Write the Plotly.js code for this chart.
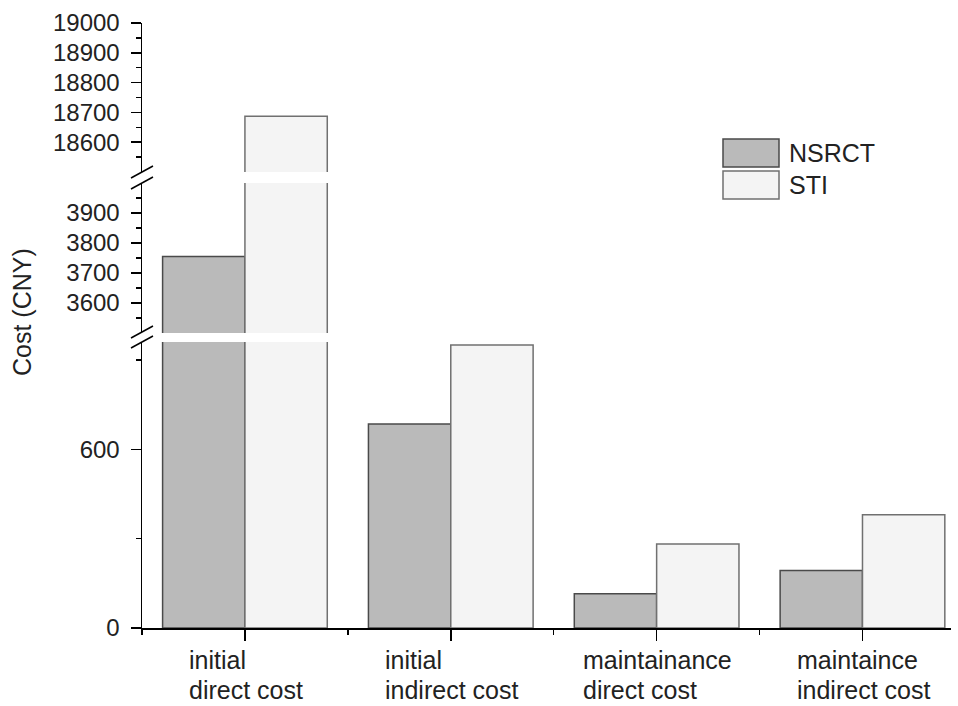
<!DOCTYPE html>
<html>
<head>
<meta charset="utf-8">
<script src="https://cdn.plot.ly/plotly-3.0.1.min.js"></script>
<style>html,body{margin:0;padding:0;background:#fff;}#chart{width:958px;height:706px;}</style>
</head>
<body>
<div id="chart"></div>
<script>
// ---- data ----
const categories = ['initial<br>direct cost', 'initial<br>indirect cost', 'maintainance<br>direct cost', 'maintaince<br>indirect cost'];
const seriesNames = ['NSRCT', 'STI'];
const nsrctValues = [3755, 685, 115, 193];
const stiValues = [18687, 950, 282, 380];
const seriesFill = ['#bababa', '#f4f4f4'];
const seriesLine = ['#4a4a4a', '#707070'];

// broken axis segments (bottom, middle, top)
const segRanges = [[0, 960], [3500, 4000], [18500, 19000]];
const segTicks = [[0, 600], [3600, 3700, 3800, 3900], [18600, 18700, 18800, 18900, 19000]];
const segMinor = [[300, 900], [3550, 3650, 3750, 3850, 3950], [18550, 18650, 18750, 18850, 18950]];

// ---- layout helpers (pixel -> paper) ----
const W = 958, H = 706;
const M = {l: 142, r: 7, t: 23, b: 78};
const PW = W - M.l - M.r, PH = H - M.t - M.b;
const px = x => (x - M.l) / PW;
const py = y => (H - M.b - y) / PH;
const xRange = [-0.5, 3.43];
const pxPerUnit = PW / (xRange[1] - xRange[0]);

const segDomains = [[py(628), py(342)], [py(333), py(183)], [py(172), py(23)]];
const yNames = ['y', 'y2', 'y3'];
const xIdx = categories.map((c, i) => i);
const seriesValues = [nsrctValues, stiValues];

const font = 'Liberation Sans, Arial, sans-serif';
const textColor = '#222';
const catFontSize = 25;

const traces = [];
yNames.forEach(yn => {
  seriesValues.forEach((vals, s) => {
    traces.push({
      type: 'bar', x: xIdx, y: vals, name: seriesNames[s], yaxis: yn, xaxis: 'x',
      showlegend: false, hoverinfo: 'skip',
      marker: {color: seriesFill[s], line: {color: seriesLine[s], width: 1.5}}
    });
  });
});

const layout = {
  width: W, height: H, margin: M,
  paper_bgcolor: '#fff', plot_bgcolor: 'rgba(0,0,0,0)',
  barmode: 'group', bargap: 0.2, bargroupgap: 0,
  showlegend: false,
  font: {family: font, size: 24, color: textColor},
  xaxis: {
    range: xRange, anchor: 'y', showgrid: false, zeroline: false,
    showline: true, linecolor: '#000', linewidth: 1.5,
    tickmode: 'array', tickvals: xIdx, showticklabels: false,
    ticks: 'outside', ticklen: 11, tickwidth: 1.5, tickcolor: '#000',
    minor: {tickmode: 'array', tickvals: [-0.5, 0.5, 1.5, 2.5], ticks: 'outside', ticklen: 5, tickwidth: 1.5, tickcolor: '#000'}
  },
  shapes: [],
  annotations: []
};

yNames.forEach((yn, i) => {
  const key = i === 0 ? 'yaxis' : 'yaxis' + (i + 1);
  layout[key] = {
    domain: segDomains[i], range: segRanges[i], anchor: 'x',
    showgrid: false, zeroline: false, showline: true, linecolor: '#000', linewidth: 1.5,
    tickmode: 'array', tickvals: segTicks[i], tickformat: 'd',
    ticks: 'outside', ticklen: 10, tickwidth: 1.5, tickcolor: '#000',
    ticklabelstandoff: 6,
    tickfont: {family: font, size: 24, color: textColor},
    minor: {tickmode: 'array', tickvals: segMinor[i], ticks: 'outside', ticklen: 5, tickwidth: 1.5, tickcolor: '#000'}
  };
});

// axis break marks
const breaks = [[178, 166], [189, 177], [338, 326], [348, 336]];
breaks.forEach(b => {
  layout.shapes.push({type: 'line', xref: 'paper', yref: 'paper',
    x0: px(131), y0: py(b[0]), x1: px(153), y1: py(b[1]), line: {color: '#000', width: 1.5}});
});

// legend (boxes + names)
const legTop = [139, 171];
seriesNames.forEach((n, s) => {
  layout.shapes.push({type: 'rect', xref: 'paper', yref: 'paper',
    x0: px(723), x1: px(779), y0: py(legTop[s] + 28), y1: py(legTop[s]),
    fillcolor: seriesFill[s], line: {color: seriesLine[s], width: 1.5}});
  layout.annotations.push({xref: 'paper', yref: 'paper', x: px(787), y: py(legTop[s] + 14),
    xanchor: 'left', yanchor: 'middle', text: n, showarrow: false,
    font: {family: font, size: 25, color: textColor}});
});

// category labels: left-aligned two-line blocks centred under each category
const ctx = document.createElement('canvas').getContext('2d');
ctx.font = catFontSize + 'px "Liberation Sans", Arial, sans-serif';
const lineY = [660, 690];
categories.forEach((c, i) => {
  const lines = c.split('<br>');
  const maxW = Math.max(...lines.map(l => ctx.measureText(l).width));
  const left = i - (maxW / 2) / pxPerUnit;
  lines.forEach((l, k) => {
    layout.annotations.push({xref: 'x', yref: 'paper', x: left, y: py(lineY[k]),
      xanchor: 'left', yanchor: 'middle', text: l, showarrow: false, borderpad: 0,
      font: {family: font, size: catFontSize, color: textColor}});
  });
});

// y axis title
layout.annotations.push({xref: 'paper', yref: 'paper', x: px(22), y: py(312),
  xanchor: 'center', yanchor: 'middle', textangle: -90, text: 'Cost (CNY)', showarrow: false,
  font: {family: font, size: 25, color: textColor}});

Plotly.newPlot('chart', traces, layout, {displayModeBar: false, staticPlot: true});
</script>
</body>
</html>
